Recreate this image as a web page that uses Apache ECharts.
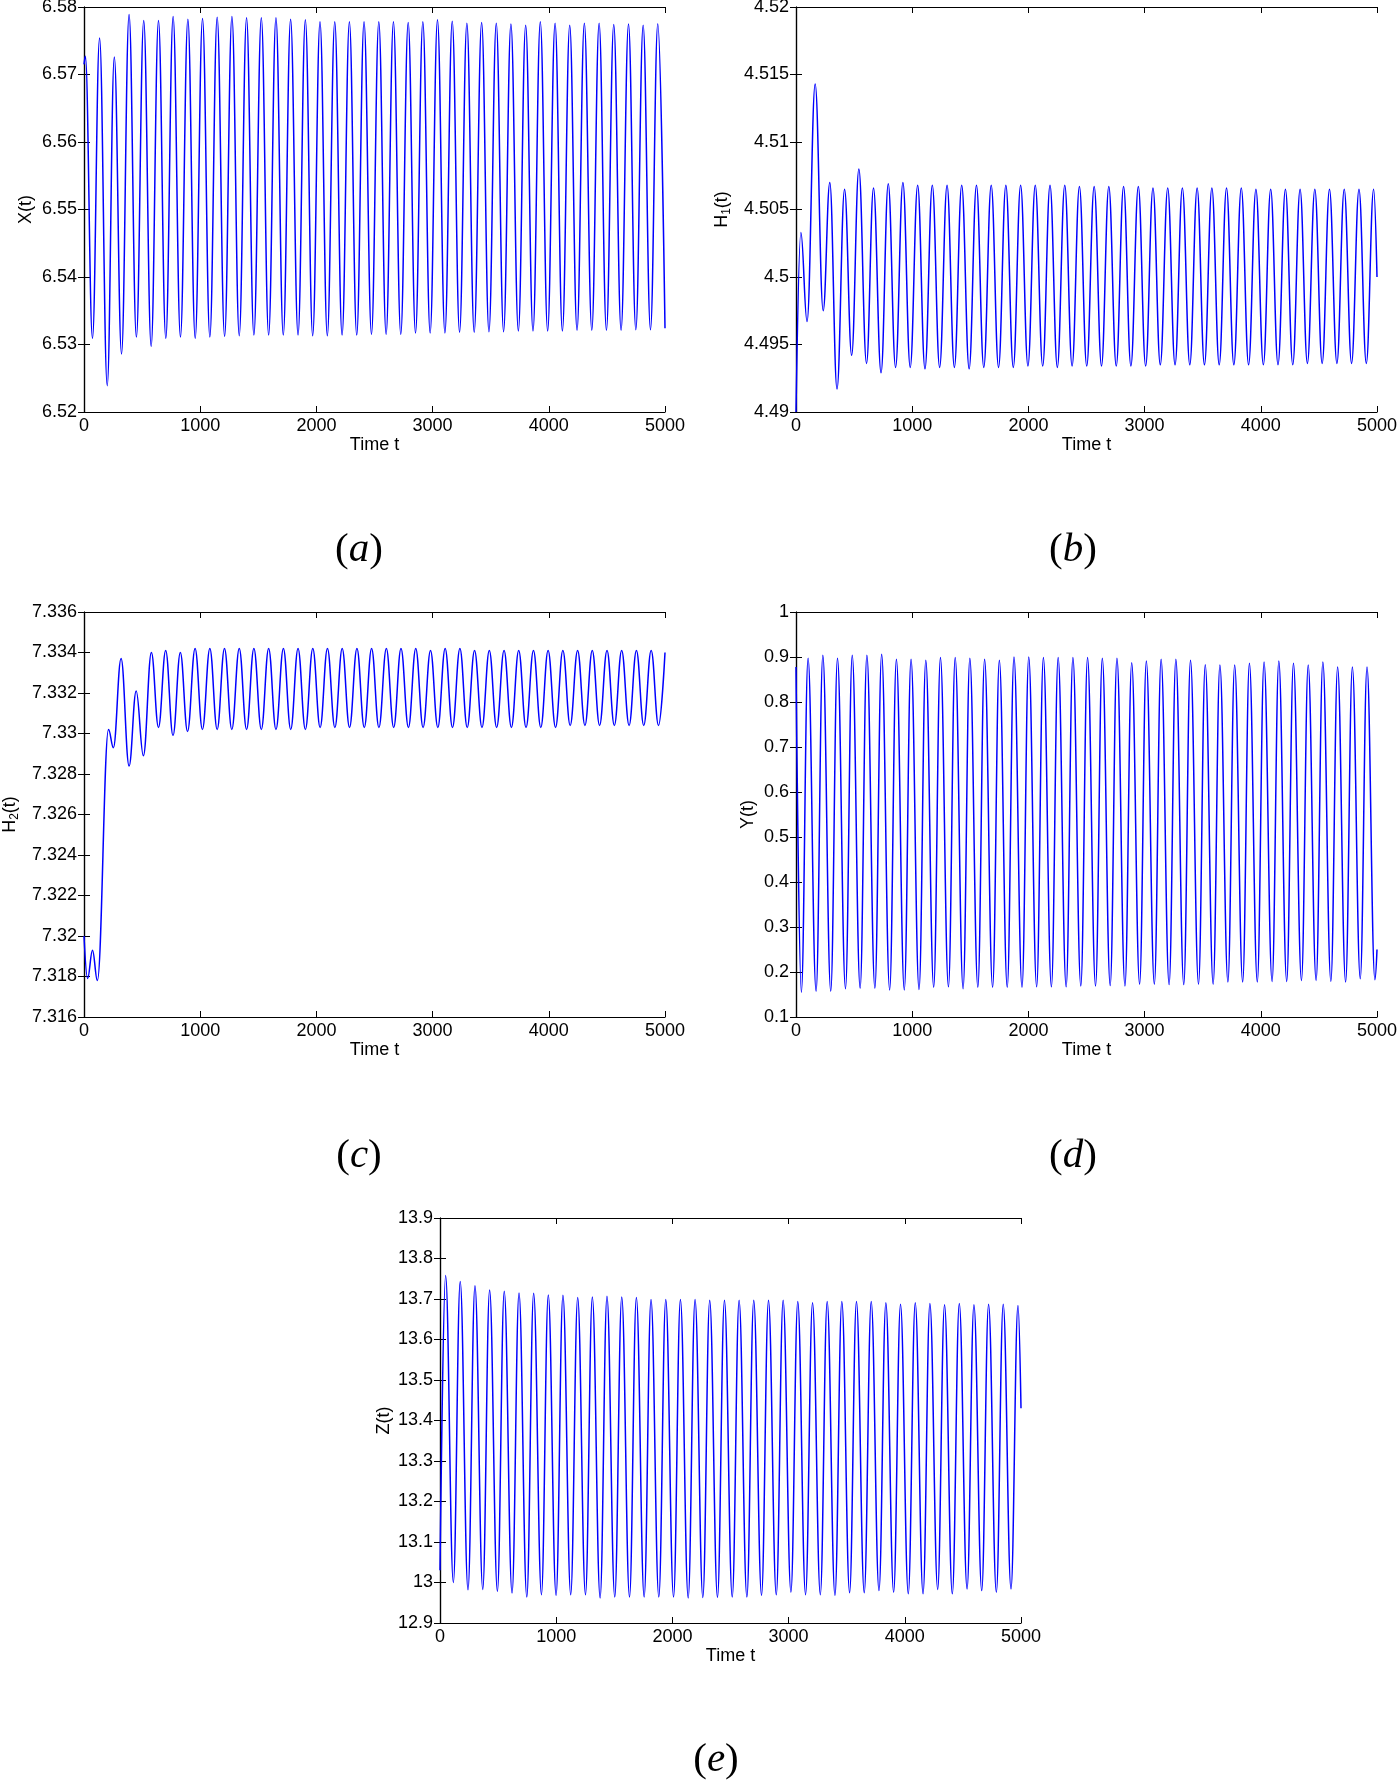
<!DOCTYPE html>
<html>
<head>
<meta charset="utf-8">
<title>Time series panels</title>
<script src="https://cdn.jsdelivr.net/npm/echarts@6/dist/echarts.min.js"></script>
<style>
  body { margin: 0; background: #fff; }
  #chart { width: 1398px; height: 1784px; }
</style>
</head>
<body>
<div id="chart"></div>
<script>
// peaks and troughs, [time, value]
const xData = [[0,6.5715],[12,6.5727],[73,6.5309],[134,6.5754],[200,6.5239],[261,6.5726],[323,6.5286],
  [388,6.5789],[451,6.5311],[514,6.5780],[578,6.5297],[641,6.5780],[704,6.5309],[767,6.5786],[830,6.5311],
  [894,6.5782],[957,6.5309],[1020,6.5783],[1083,6.5311],[1146,6.5785],[1210,6.5312],[1273,6.5786],[1336,6.5313],
  [1399,6.5784],[1462,6.5314],[1526,6.5784],[1589,6.5314],[1652,6.5784],[1715,6.5314],[1778,6.5782],[1842,6.5314],
  [1905,6.5781],[1968,6.5313],[2031,6.5778],[2094,6.5313],[2158,6.5778],[2221,6.5314],[2284,6.5778],[2347,6.5314],
  [2410,6.5778],[2474,6.5315],[2537,6.5778],[2600,6.5315],[2663,6.5778],[2726,6.5315],[2790,6.5777],[2853,6.5317],
  [2916,6.5778],[2979,6.5317],[3042,6.5781],[3106,6.5317],[3169,6.5779],[3232,6.5318],[3295,6.5776],[3358,6.5318],
  [3422,6.5777],[3485,6.5319],[3548,6.5776],[3611,6.5319],[3674,6.5775],[3738,6.5320],[3801,6.5773],[3864,6.5320],
  [3927,6.5778],[3990,6.5320],[4054,6.5776],[4117,6.5320],[4180,6.5773],[4243,6.5321],[4306,6.5776],[4370,6.5321],
  [4433,6.5776],[4496,6.5321],[4559,6.5774],[4622,6.5321],[4686,6.5775],[4749,6.5322],[4812,6.5773],[4875,6.5322],
  [4938,6.5775],[5000,6.5324]];

const h1Data = [[0,4.4900],[42,4.5033],[95,4.4967],[165,4.5143],[234,4.4975],[291,4.5070],[353,4.4917],[418,4.5065],
  [479,4.4942],[541,4.5080],[607,4.4936],[667,4.5066],[732,4.4929],[794,4.5069],[857,4.4933],
  [920,4.5070],[983,4.4933],[1047,4.5068],[1110,4.4932],[1173,4.5068],[1236,4.4933],[1300,4.5068],[1363,4.4933],
  [1426,4.5068],[1490,4.4932],[1553,4.5068],[1616,4.4933],[1680,4.5068],[1743,4.4933],[1806,4.5068],[1870,4.4933],
  [1933,4.5068],[1996,4.4934],[2059,4.5068],[2123,4.4934],[2186,4.5068],[2249,4.4933],[2313,4.5068],[2376,4.4934],
  [2439,4.5067],[2502,4.4934],[2566,4.5067],[2629,4.4934],[2692,4.5067],[2756,4.4934],[2819,4.5067],[2882,4.4934],
  [2946,4.5067],[3009,4.4934],[3072,4.5066],[3135,4.4935],[3199,4.5066],[3262,4.4935],[3325,4.5066],[3389,4.4935],
  [3452,4.5066],[3515,4.4935],[3579,4.5066],[3642,4.4935],[3705,4.5066],[3768,4.4935],[3832,4.5066],[3895,4.4935],
  [3958,4.5065],[4022,4.4935],[4085,4.5065],[4148,4.4935],[4212,4.5065],[4275,4.4935],[4338,4.5065],[4401,4.4936],
  [4465,4.5065],[4528,4.4936],[4591,4.5065],[4655,4.4936],[4718,4.5065],[4781,4.4936],[4845,4.5065],[4908,4.4936],
  [4971,4.5065],[5000,4.5000]];

const h2Data = [[0,7.3200],[31,7.3179],[73,7.3193],[115,7.3178],[211,7.3302],[253,7.3293],[319,7.3337],[388,7.3284],
  [449,7.3321],[511,7.3289],[580,7.3340],[641,7.3303],[703,7.3341],[766,7.3299],[829,7.3340],[891,7.3301],
  [956,7.3342],[1019,7.3302],[1083,7.3342],[1146,7.3302],[1209,7.3342],[1272,7.3302],[1336,7.3342],[1399,7.3302],
  [1462,7.3342],[1526,7.3302],[1589,7.3342],[1652,7.3302],[1716,7.3342],[1779,7.3302],[1842,7.3342],[1905,7.3302],
  [1969,7.3342],[2032,7.3303],[2095,7.3342],[2159,7.3303],[2222,7.3342],[2285,7.3303],[2349,7.3342],[2412,7.3303],
  [2475,7.3342],[2538,7.3303],[2602,7.3342],[2665,7.3303],[2728,7.3342],[2792,7.3303],[2855,7.3342],[2918,7.3303],
  [2982,7.3341],[3045,7.3303],[3108,7.3342],[3171,7.3303],[3235,7.3342],[3298,7.3303],[3361,7.3341],[3425,7.3303],
  [3488,7.3341],[3551,7.3303],[3615,7.3341],[3678,7.3303],[3741,7.3341],[3804,7.3303],[3868,7.3341],[3931,7.3303],
  [3994,7.3341],[4058,7.3303],[4121,7.3341],[4184,7.3304],[4248,7.3341],[4311,7.3304],[4374,7.3341],[4437,7.3304],
  [4501,7.3341],[4564,7.3304],[4627,7.3341],[4691,7.3304],[4754,7.3341],[4817,7.3304],[4881,7.3341],[4944,7.3304],
  [5000,7.3340]];

const yData = [[0,0.878],[46,0.155],
  [104,0.897],[173,0.157],[231,0.904],[299,0.157],[357,0.897],[426,0.163],[484,0.904],[552,0.164],
  [610,0.904],[679,0.164],[737,0.906],[806,0.160],[864,0.895],[932,0.160],[990,0.895],[1059,0.161],
  [1117,0.893],[1185,0.166],[1243,0.899],[1312,0.167],[1370,0.899],[1438,0.163],[1496,0.897],[1565,0.166],
  [1623,0.895],[1692,0.166],[1750,0.893],[1818,0.166],[1876,0.900],[1945,0.166],[2003,0.900],[2071,0.167],
  [2129,0.899],[2198,0.167],[2256,0.899],[2325,0.167],[2383,0.899],[2451,0.169],[2509,0.899],[2578,0.169],
  [2636,0.897],[2704,0.170],[2762,0.897],[2831,0.169],[2889,0.887],[2957,0.173],[3015,0.891],[3084,0.173],
  [3142,0.895],[3211,0.172],[3269,0.895],[3337,0.172],[3395,0.893],[3464,0.173],[3522,0.883],[3590,0.173],
  [3648,0.882],[3717,0.178],[3775,0.882],[3844,0.178],[3902,0.886],[3970,0.178],[4028,0.889],[4097,0.179],
  [4155,0.891],[4223,0.179],[4281,0.886],[4350,0.181],[4408,0.882],[4476,0.181],[4534,0.889],[4603,0.179],
  [4661,0.878],[4730,0.178],[4788,0.878],[4856,0.185],[4914,0.878],[4982,0.183],[5000,0.25]];

const zData = [[0,13.03],[48,13.758],[115,13.000],[174,13.743],[241,12.982],[301,13.733],[368,12.983],[427,13.722],[494,12.978],
  [553,13.719],[620,12.974],[680,13.715],[747,12.964],[806,13.714],[873,12.970],[932,13.710],[999,12.968],
  [1058,13.709],[1125,12.970],[1185,13.704],[1252,12.970],[1311,13.705],[1378,12.962],[1437,13.707],[1504,12.964],
  [1564,13.705],[1631,12.964],[1690,13.704],[1757,12.964],[1816,13.699],[1883,12.964],[1943,13.699],[2010,12.964],
  [2069,13.699],[2136,12.962],[2195,13.699],[2262,12.963],[2321,13.697],[2388,12.963],[2448,13.697],[2515,12.964],
  [2574,13.697],[2641,12.964],[2700,13.697],[2767,12.968],[2827,13.697],[2894,12.970],[2953,13.697],[3020,12.976],
  [3079,13.694],[3146,12.970],[3206,13.691],[3273,12.970],[3332,13.694],[3399,12.968],[3458,13.694],[3525,12.975],
  [3584,13.694],[3651,12.975],[3711,13.694],[3778,12.980],[3837,13.691],[3904,12.976],[3963,13.687],[4030,12.972],
  [4090,13.691],[4157,12.972],[4216,13.689],[4283,12.983],[4342,13.686],[4409,12.972],[4469,13.689],[4536,12.984],
  [4595,13.686],[4662,12.980],[4721,13.687],[4788,12.976],[4847,13.687],[4914,12.984],[4974,13.684],[5000,13.43]];

const panels = [
  { data: xData,  left: 84,  top: 7,    yMin: 6.52,  yMax: 6.58,  yStep: 0.01,  yName: 'X(t)', gap: 49, tag: 'a', tx: 359,  ty: 550 },
  { data: h1Data, left: 796, top: 7,    yMin: 4.49,  yMax: 4.52,  yStep: 0.005, yName: '{m|H}{s|1}{m|(t)}', gap: 55, tag: 'b', tx: 1073, ty: 550 },
  { data: h2Data, left: 84,  top: 612,  yMin: 7.316, yMax: 7.336, yStep: 0.002, yName: '{m|H}{s|2}{m|(t)}', gap: 55, tag: 'c', tx: 359,  ty: 1156 },
  { data: yData,  left: 796, top: 612,  yMin: 0.1,   yMax: 1,     yStep: 0.1,   yName: 'Y(t)', gap: 39, tag: 'd', tx: 1073, ty: 1156 },
  { data: zData,  left: 440, top: 1218, yMin: 12.9,  yMax: 13.9,  yStep: 0.1,   yName: 'Z(t)', gap: 47, tag: 'e', tx: 716,  ty: 1760 }
];

const FONT = '"Liberation Sans", Arial, Helvetica, sans-serif';
const black = '#000';
const tick = { show: true, inside: true, length: 6, lineStyle: { color: black, width: 1 } };
const line = { show: true, lineStyle: { color: black, width: 1.2 } };

const grid = [], xAxis = [], yAxis = [], series = [], graphic = [];

panels.forEach((p, i) => {
  grid.push({ left: p.left, top: p.top, width: 581, height: 405, outerBoundsMode: 'none', containLabel: false });
  xAxis.push({
    gridIndex: i, type: 'value', position: 'bottom', min: 0, max: 5000, interval: 1000,
    axisLine: line, axisTick: tick, splitLine: { show: false },
    axisLabel: { color: black, fontSize: 18, fontFamily: FONT, margin: 5, formatter: v => String(v) },
    name: 'Time t', nameLocation: 'middle', nameGap: 24,
    nameTextStyle: { color: black, fontSize: 18, fontFamily: FONT }
  });
  xAxis.push({
    gridIndex: i, type: 'value', position: 'top', min: 0, max: 5000, interval: 1000,
    axisLine: line, axisTick: tick, splitLine: { show: false }, axisLabel: { show: false }
  });
  yAxis.push({
    gridIndex: i, type: 'value', position: 'left', min: p.yMin, max: p.yMax, interval: p.yStep,
    axisLine: line, axisTick: tick, splitLine: { show: false },
    axisLabel: { color: black, fontSize: 18, fontFamily: FONT, margin: 7,
      formatter: v => String(parseFloat(v.toFixed(4))) },
    name: p.yName, nameLocation: 'middle', nameRotate: 90, nameGap: p.gap,
    nameTextStyle: {
      color: black, fontSize: 18, fontFamily: FONT,
      rich: {
        m: { fontSize: 18, fontFamily: FONT, color: black, lineHeight: 18, verticalAlign: 'top' },
        s: { fontSize: 12, fontFamily: FONT, color: black, lineHeight: 28, verticalAlign: 'middle' }
      }
    }
  });
  yAxis.push({
    gridIndex: i, type: 'value', position: 'right', min: p.yMin, max: p.yMax, interval: p.yStep,
    axisLine: line, axisTick: tick, splitLine: { show: false }, axisLabel: { show: false }
  });
  series.push({
    type: 'line', xAxisIndex: 2 * i, yAxisIndex: 2 * i, data: p.data,
    showSymbol: false, smooth: 0.4, smoothMonotone: 'x', silent: true,
    lineStyle: { color: '#0000ff', width: 1.5 }
  });
  graphic.push({
    type: 'text', x: p.tx, y: p.ty, silent: true,
    style: {
      text: '{p|(}{i|' + p.tag + '}{p|)}',
      align: 'center', verticalAlign: 'middle',
      rich: {
        p: { fontFamily: '"Liberation Serif", serif', fontSize: 41, fill: black, color: black },
        i: { fontFamily: '"Liberation Serif", serif', fontStyle: 'italic', fontSize: 41, fill: black, color: black }
      }
    }
  });
});

const chart = echarts.init(document.getElementById('chart'));
chart.setOption({
  animation: false,
  backgroundColor: '#fff',
  grid, xAxis, yAxis, series, graphic
});
</script>
</body>
</html>
